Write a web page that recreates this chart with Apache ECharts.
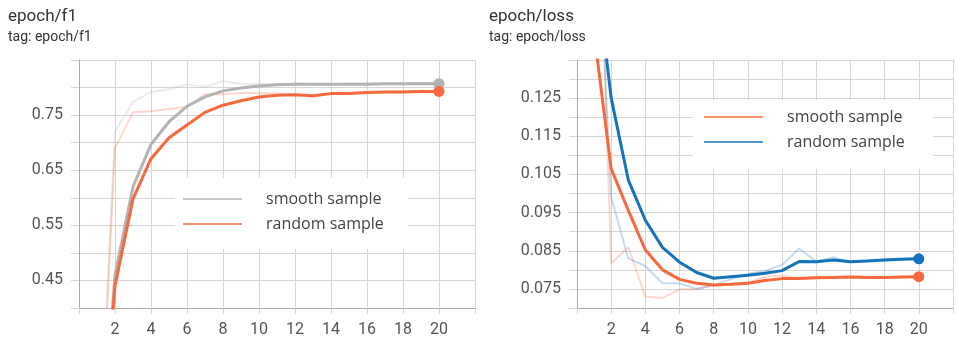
<!DOCTYPE html>
<html>
<head>
<meta charset="utf-8">
<script src="https://cdn.jsdelivr.net/npm/echarts@6/dist/echarts.min.js"></script>
<style>
  html, body { margin: 0; padding: 0; background: #fff; }
  #main { width: 956px; height: 344px; }
</style>
</head>
<body>
<div id="main"></div>
<script>
// epochs
var epochs = [1, 2, 3, 4, 5, 6, 7, 8, 9, 10, 11, 12, 13, 14, 15, 16, 17, 18, 19, 20];

// epoch/f1
var f1SmoothSmoothed = [0.03, 0.46, 0.62, 0.697, 0.738, 0.766, 0.783, 0.794, 0.799, 0.803, 0.805, 0.806, 0.806, 0.806, 0.806, 0.806, 0.807, 0.807, 0.807, 0.807];
var f1SmoothRaw = [0.03, 0.72, 0.774, 0.792, 0.797, 0.806, 0.801, 0.812, 0.806, 0.806, 0.806, 0.807, 0.806, 0.806, 0.807, 0.807, 0.807, 0.807, 0.808, 0.807];
var f1RandomSmoothed = [0.03, 0.44, 0.598, 0.671, 0.709, 0.732, 0.755, 0.768, 0.776, 0.783, 0.786, 0.787, 0.785, 0.789, 0.789, 0.791, 0.792, 0.792, 0.793, 0.793];
var f1RandomRaw = [0.03, 0.69, 0.755, 0.757, 0.761, 0.765, 0.788, 0.788, 0.79, 0.79, 0.789, 0.787, 0.783, 0.79, 0.789, 0.792, 0.792, 0.793, 0.794, 0.793];

// epoch/loss
var lossSmoothSmoothed = [0.142, 0.1065, 0.0956, 0.0852, 0.080, 0.0775, 0.0765, 0.076, 0.0762, 0.0765, 0.0772, 0.0777, 0.0777, 0.0779, 0.078, 0.0781, 0.078, 0.078, 0.0781, 0.0782];
var lossSmoothRaw = [0.22, 0.0817, 0.086, 0.073, 0.0726, 0.0749, 0.0749, 0.076, 0.0762, 0.0766, 0.0782, 0.0785, 0.0778, 0.0782, 0.078, 0.0782, 0.0781, 0.0781, 0.078, 0.0782];
var lossRandomSmoothed = [0.163, 0.125, 0.1036, 0.093, 0.0859, 0.082, 0.0793, 0.0778, 0.0782, 0.0786, 0.0791, 0.0798, 0.0822, 0.0821, 0.0826, 0.0821, 0.0823, 0.0826, 0.0828, 0.0829];
var lossRandomRaw = [0.19, 0.0991, 0.083, 0.081, 0.0765, 0.0765, 0.075, 0.076, 0.0775, 0.079, 0.0797, 0.0813, 0.0856, 0.0822, 0.0833, 0.0821, 0.0825, 0.0827, 0.0829, 0.083];

var f1Ticks = ['0.45', '0.55', '0.65', '0.75'];
var lossTicks = ['0.075', '0.085', '0.095', '0.105', '0.115', '0.125'];
var xTicks = [2, 4, 6, 8, 10, 12, 14, 16, 18, 20];

var GRAY = '#b3b3b3';
var ORANGE = '#f5693d';
var BLUE = '#1473bb';
var GRID = '#d6d6d6';

function pts(vals, dot) {
    return epochs.map(function (e, i) {
        var item = { value: [e, vals[i]] };
        if (dot && i === epochs.length - 1) {
            item.symbol = 'circle';
            item.symbolSize = 11;
        }
        return item;
    });
}

function smoothLine(name, vals, color, idx) {
    return {
        name: name, type: 'line', xAxisIndex: idx, yAxisIndex: idx,
        data: pts(vals, true), symbol: 'none', showSymbol: true,
        lineStyle: { color: color, width: 3 },
        itemStyle: { color: color },
        z: 3, animation: false
    };
}

function rawLine(name, vals, color, idx) {
    return {
        name: name, type: 'line', xAxisIndex: idx, yAxisIndex: idx,
        data: pts(vals, false), symbol: 'none',
        lineStyle: { color: color, width: 2, opacity: 0.25 },
        itemStyle: { color: color },
        z: 2, animation: false
    };
}

function xAxisCfg(idx) {
    return {
        type: 'value', gridIndex: idx, min: 0, max: 22, interval: 2,
        axisLine: { show: true, lineStyle: { color: '#aaa', width: 1 } },
        axisTick: { show: true, length: 6, lineStyle: { color: GRID } },
        splitLine: { show: true, lineStyle: { color: GRID, width: 1 } },
        axisLabel: {
            margin: 14, color: '#555', fontSize: 16, fontFamily: 'Roboto',
            formatter: function (v) { return xTicks.indexOf(v) >= 0 ? String(v) : ''; }
        }
    };
}

function yAxisCfg(idx, min, max, interval, ticks, digits) {
    return {
        type: 'value', gridIndex: idx, min: min, max: max, interval: interval,
        axisLine: { show: true, lineStyle: { color: '#aaa', width: 1 } },
        axisTick: { show: true, length: 8, lineStyle: { color: GRID } },
        splitLine: { show: true, lineStyle: { color: GRID, width: 1 } },
        axisLabel: {
            margin: 16, color: '#555', fontSize: 16, fontFamily: 'Roboto',
            formatter: function (v) {
                var s = v.toFixed(digits);
                return ticks.indexOf(s) >= 0 ? s : '';
            }
        }
    };
}

function legendCfg(names, left, top, padding) {
    return {
        data: names, orient: 'vertical', left: left, top: top,
        backgroundColor: '#fff', padding: padding,
        icon: 'rect', itemWidth: 59, itemHeight: 1.5, itemGap: 5,
        itemStyle: { borderWidth: 0 },
        textStyle: { fontSize: 16, fontFamily: 'Open Sans', color: '#444', lineHeight: 20, padding: [0, 0, 0, 19] },
        selectedMode: false
    };
}

var myChart = echarts.init(document.getElementById('main'));
myChart.setOption({
    animation: false,
    title: [{
        text: 'epoch/f1', subtext: 'tag: epoch/f1', left: 3, top: 3, itemGap: 5,
        textStyle: { fontSize: 17, fontWeight: 'normal', color: '#333', fontFamily: 'Roboto' },
        subtextStyle: { fontSize: 14, color: '#333', fontFamily: 'Roboto' }
    }, {
        text: 'epoch/loss', subtext: 'tag: epoch/loss', left: 484, top: 3, itemGap: 5,
        textStyle: { fontSize: 17, fontWeight: 'normal', color: '#333', fontFamily: 'Roboto' },
        subtextStyle: { fontSize: 14, color: '#333', fontFamily: 'Roboto' }
    }],
    grid: [
        { left: 79, top: 60, width: 396, height: 248 },
        { left: 577, top: 60, width: 380, height: 248 }
    ],
    xAxis: [xAxisCfg(0), xAxisCfg(1)],
    yAxis: [
        yAxisCfg(0, 0.40, 0.85, 0.05, f1Ticks, 2),
        yAxisCfg(1, 0.070, 0.135, 0.005, lossTicks, 3)
    ],
    legend: [
        legendCfg(['smooth sample', 'random sample'], 175, 178, [11, 24, 15, 8]),
        legendCfg(['smooth sample ', 'random sample '], 693, 100, [7, 24, 17, 11])
    ],
    series: [
        rawLine('f1 smooth raw', f1SmoothRaw, GRAY, 0),
        rawLine('f1 random raw', f1RandomRaw, ORANGE, 0),
        smoothLine('smooth sample', f1SmoothSmoothed, GRAY, 0),
        smoothLine('random sample', f1RandomSmoothed, ORANGE, 0),
        rawLine('loss smooth raw', lossSmoothRaw, ORANGE, 1),
        rawLine('loss random raw', lossRandomRaw, BLUE, 1),
        smoothLine('smooth sample ', lossSmoothSmoothed, ORANGE, 1),
        smoothLine('random sample ', lossRandomSmoothed, BLUE, 1)
    ]
});
</script>
</body>
</html>
